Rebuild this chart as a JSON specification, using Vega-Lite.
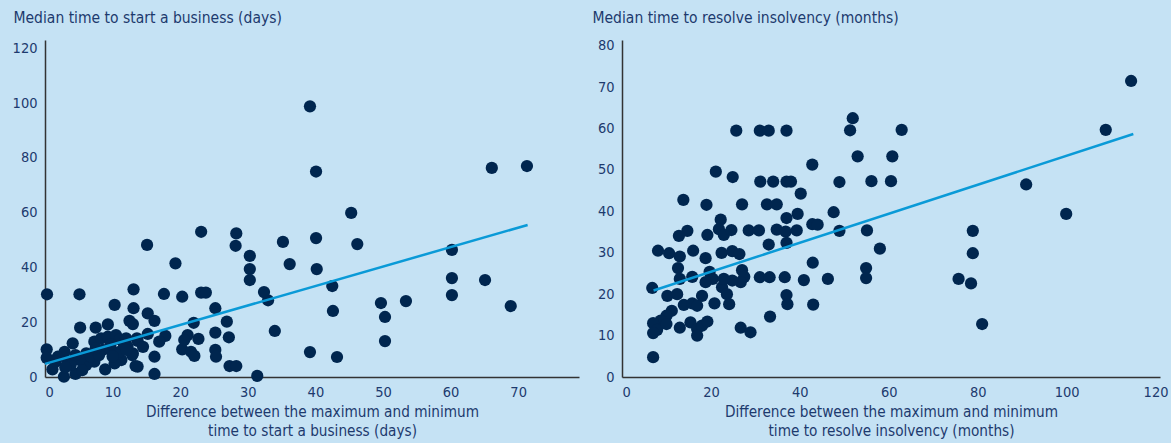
{
  "$schema": "https://vega.github.io/schema/vega-lite/v6.json",
  "background": "#c5e2f4",
  "padding": {"left": 12, "top": 10, "right": 5, "bottom": 5},
  "spacing": 13,
  "config": {
    "view": {"stroke": null},
    "font": "DejaVu Sans Condensed, DejaVu Sans, sans-serif",
    "axis": {
      "domainColor": "#333333",
      "domainWidth": 1.5,
      "ticks": false,
      "grid": false,
      "labelColor": "#1d3a6e",
      "titleColor": "#1d3a6e",
      "labelFont": "DejaVu Sans Condensed, DejaVu Sans, sans-serif",
      "titleFont": "DejaVu Sans Condensed, DejaVu Sans, sans-serif",
      "labelFontSize": 14.5,
      "titleFontSize": 15.5,
      "titleFontWeight": "normal"
    },
    "axisY": {"labelPadding": 8},
    "axisX": {"labelPadding": 8, "titlePadding": 6, "titleFontSize": 15.2, "titleLineHeight": 19}
  },
  "datasets": {
    "biz": [
      {"x": 0.3, "y": 30.2}, {"x": 5.1, "y": 30.2}, {"x": 39.2, "y": 98.8}, {"x": 40.1, "y": 75}, {"x": 66.1, "y": 76.3}, {"x": 71.3, "y": 77},
      {"x": 45.3, "y": 59.9}, {"x": 46.2, "y": 48.5}, {"x": 40.1, "y": 50.7}, {"x": 40.2, "y": 39.4}, {"x": 42.5, "y": 33.2}, {"x": 42.6, "y": 24.1},
      {"x": 43.2, "y": 7.3}, {"x": 39.2, "y": 9.1}, {"x": 31.4, "y": 0.4}, {"x": 36.2, "y": 41.2}, {"x": 35.2, "y": 49.3}, {"x": 33, "y": 28},
      {"x": 32.4, "y": 31}, {"x": 30.3, "y": 44.2}, {"x": 30.3, "y": 39.4}, {"x": 30.3, "y": 35.4}, {"x": 34, "y": 16.8}, {"x": 28.3, "y": 52.4},
      {"x": 28.2, "y": 47.9}, {"x": 23.1, "y": 53}, {"x": 23.1, "y": 30.8}, {"x": 23.8, "y": 30.8}, {"x": 19.3, "y": 41.5}, {"x": 15.1, "y": 48.2},
      {"x": 20.3, "y": 29.3}, {"x": 17.6, "y": 30.3}, {"x": 22, "y": 19.8}, {"x": 25.2, "y": 25.1}, {"x": 26.9, "y": 20.2}, {"x": 25.2, "y": 16.2},
      {"x": 27.2, "y": 14.5}, {"x": 25.2, "y": 9.9}, {"x": 25.3, "y": 7.4}, {"x": 27.3, "y": 4}, {"x": 28.3, "y": 4}, {"x": 20.3, "y": 10.1},
      {"x": 21.6, "y": 9.2}, {"x": 22.1, "y": 7.7}, {"x": 21.1, "y": 15.3}, {"x": 20.6, "y": 13.5}, {"x": 22.7, "y": 13.9}, {"x": 17.8, "y": 15},
      {"x": 16.9, "y": 12.9}, {"x": 16.2, "y": 7.4}, {"x": 16.2, "y": 1.1}, {"x": 13.7, "y": 3.8}, {"x": 60.2, "y": 46.4}, {"x": 60.2, "y": 36.1},
      {"x": 65.1, "y": 35.4}, {"x": 60.2, "y": 29.9}, {"x": 68.9, "y": 25.9}, {"x": 53.4, "y": 27.7}, {"x": 49.7, "y": 27}, {"x": 50.3, "y": 21.9},
      {"x": 50.3, "y": 13.1},
      {"x": 13.1, "y": 32}, {"x": 10.3, "y": 26.3}, {"x": 13.1, "y": 25.1}, {"x": 15.2, "y": 23.2}, {"x": 16.2, "y": 20.5}, {"x": 12.5, "y": 20.5},
      {"x": 13, "y": 19.3}, {"x": 9.3, "y": 19.2}, {"x": 7.5, "y": 18}, {"x": 5.2, "y": 18}, {"x": 15.2, "y": 15.7}, {"x": 13.7, "y": 13.2},
      {"x": 0.25, "y": 10.1}, {"x": 0.25, "y": 7}, {"x": 2.8, "y": 0.1}, {"x": 4.5, "y": 1.1}, {"x": 4.1, "y": 12.3}, {"x": 2.9, "y": 9.2},
      {"x": 1.9, "y": 7.4}, {"x": 1.1, "y": 2.8}, {"x": 7.3, "y": 12.9}, {"x": 8.3, "y": 14.1}, {"x": 9.3, "y": 14.7}, {"x": 10.5, "y": 15.3},
      {"x": 11.1, "y": 13.7}, {"x": 12, "y": 14.1}, {"x": 13.6, "y": 14.1}, {"x": 13, "y": 8.6}, {"x": 11.3, "y": 6.2}, {"x": 10.3, "y": 5},
      {"x": 8.9, "y": 2.8}, {"x": 7.3, "y": 5.6}, {"x": 6.1, "y": 4.4}, {"x": 5.1, "y": 6.2}, {"x": 6.1, "y": 8.6}, {"x": 6.8, "y": 7.4},
      {"x": 8.5, "y": 9.9}, {"x": 9.8, "y": 9.9}, {"x": 11, "y": 9.2}, {"x": 12.2, "y": 11.1}, {"x": 13.4, "y": 4}, {"x": 11.7, "y": 11.7},
      {"x": 3.4, "y": 5.6}, {"x": 3.8, "y": 4.4}, {"x": 1.6, "y": 5.6}, {"x": 8, "y": 8}, {"x": 12.9, "y": 8}, {"x": 12, "y": 9.9},
      {"x": 4.5, "y": 8}, {"x": 3, "y": 3.5}, {"x": 5.5, "y": 2.5}, {"x": 7.5, "y": 10.5}, {"x": 9.7, "y": 12}, {"x": 10, "y": 7.5},
      {"x": 14.5, "y": 11}
    ],
    "bizLine": [{"x": 0, "y": 4.8}, {"x": 71.4, "y": 55.5}],
    "ins": [
      {"x": 114.5, "y": 71.5}, {"x": 108.8, "y": 59.7}, {"x": 90.9, "y": 46.5}, {"x": 99.9, "y": 39.4}, {"x": 78.9, "y": 35.3}, {"x": 78.9, "y": 29.9},
      {"x": 75.7, "y": 23.7}, {"x": 78.5, "y": 22.6}, {"x": 81, "y": 12.8}, {"x": 51.9, "y": 62.5}, {"x": 51.3, "y": 59.6}, {"x": 62.9, "y": 59.7},
      {"x": 53, "y": 53.3}, {"x": 60.8, "y": 53.3}, {"x": 56.1, "y": 47.3}, {"x": 60.5, "y": 47.3}, {"x": 48.9, "y": 47.1}, {"x": 42.8, "y": 51.3},
      {"x": 40.2, "y": 44.3}, {"x": 47.6, "y": 39.8}, {"x": 42.8, "y": 36.9}, {"x": 44, "y": 36.8}, {"x": 39.5, "y": 39.4}, {"x": 39.3, "y": 35.4},
      {"x": 48.9, "y": 35.3}, {"x": 55.1, "y": 35.4}, {"x": 58, "y": 31}, {"x": 42.9, "y": 27.6}, {"x": 54.9, "y": 26.3}, {"x": 54.9, "y": 23.9},
      {"x": 40.9, "y": 23.4}, {"x": 46.3, "y": 23.7}, {"x": 43, "y": 17.5},
      {"x": 21.1, "y": 49.6}, {"x": 13.8, "y": 42.8}, {"x": 19, "y": 41.6}, {"x": 22.2, "y": 38}, {"x": 21.8, "y": 35.7}, {"x": 22.9, "y": 34.3},
      {"x": 14.7, "y": 35.3}, {"x": 12.8, "y": 34.1}, {"x": 19.2, "y": 34.3}, {"x": 8.1, "y": 30.5}, {"x": 10.6, "y": 29.9}, {"x": 13, "y": 29.1},
      {"x": 16, "y": 30.5}, {"x": 18.8, "y": 28.7}, {"x": 22.4, "y": 30}, {"x": 12.6, "y": 26.3}, {"x": 13, "y": 23.7}, {"x": 15.8, "y": 24.2},
      {"x": 19.7, "y": 25.4}, {"x": 20.4, "y": 23.7}, {"x": 18.8, "y": 22.9}, {"x": 22.5, "y": 21.7}, {"x": 6.8, "y": 21.5}, {"x": 10.2, "y": 19.6},
      {"x": 12.4, "y": 20}, {"x": 18, "y": 19.6}, {"x": 13.9, "y": 17.4}, {"x": 15.8, "y": 17.8}, {"x": 16.9, "y": 17.2}, {"x": 20.8, "y": 17.8},
      {"x": 11.2, "y": 16}, {"x": 10, "y": 14.8}, {"x": 8.7, "y": 13.6}, {"x": 7, "y": 13}, {"x": 7.9, "y": 11.4}, {"x": 13, "y": 11.9},
      {"x": 15.4, "y": 13.2}, {"x": 16.9, "y": 11.6}, {"x": 18, "y": 12.4}, {"x": 19.2, "y": 13.4}, {"x": 16.9, "y": 10}, {"x": 7, "y": 4.8},
      {"x": 24.9, "y": 48.3}, {"x": 25.7, "y": 59.5}, {"x": 31, "y": 59.5}, {"x": 33, "y": 59.5}, {"x": 37, "y": 59.5}, {"x": 31.1, "y": 47.2},
      {"x": 34, "y": 47.2}, {"x": 37, "y": 47.2}, {"x": 38, "y": 47.2}, {"x": 27, "y": 41.7}, {"x": 32.6, "y": 41.7}, {"x": 34.8, "y": 41.7},
      {"x": 37, "y": 38.4}, {"x": 24.6, "y": 35.5}, {"x": 28.5, "y": 35.4}, {"x": 30.8, "y": 35.4}, {"x": 34.8, "y": 35.6}, {"x": 36.8, "y": 35.1},
      {"x": 33, "y": 32}, {"x": 37, "y": 32.4}, {"x": 24.8, "y": 30.4}, {"x": 26.4, "y": 29.7}, {"x": 27, "y": 25.8}, {"x": 27.5, "y": 24.2},
      {"x": 26.7, "y": 22.9}, {"x": 24.8, "y": 23.3}, {"x": 22.9, "y": 23.7}, {"x": 31, "y": 24.1}, {"x": 33.2, "y": 24.1}, {"x": 36.6, "y": 24.1},
      {"x": 23.6, "y": 20}, {"x": 37, "y": 19.8}, {"x": 37.2, "y": 17.6}, {"x": 24.1, "y": 17.6}, {"x": 26.7, "y": 11.9}, {"x": 28.9, "y": 10.8},
      {"x": 33.3, "y": 14.6}, {"x": 7, "y": 10.6}, {"x": 10, "y": 12.8}
    ],
    "insLine": [{"x": 7.1, "y": 20.9}, {"x": 115, "y": 58.7}]
  },
  "hconcat": [
    {
      "width": 534,
      "height": 337,
      "layer": [
        {
          "data": {"name": "biz"},
          "mark": {"type": "circle", "size": 150, "opacity": 1, "color": "#00264f"},
          "encoding": {
            "x": {"field": "x", "type": "quantitative", "scale": {"domain": [0, 79], "nice": false},
                  "axis": {"values": [0, 10, 20, 30, 40, 50, 60, 70], "title": ["Difference between the maximum and minimum", "time to start a business (days)"]}},
            "y": {"field": "y", "type": "quantitative", "scale": {"domain": [0, 123], "nice": false},
                  "axis": {"values": [0, 20, 40, 60, 80, 100, 120], "title": "Median time to start a business (days)", "titleAngle": 0, "titleAlign": "left", "titleBaseline": "alphabetic", "titleX": -32, "titleY": -18}}
          }
        },
        {
          "data": {"name": "bizLine"},
          "mark": {"type": "line", "color": "#0a9ad7", "strokeWidth": 2.5},
          "encoding": {
            "x": {"field": "x", "type": "quantitative"},
            "y": {"field": "y", "type": "quantitative"}
          }
        }
      ]
    },
    {
      "width": 538,
      "height": 337,
      "layer": [
        {
          "data": {"name": "ins"},
          "mark": {"type": "circle", "size": 150, "opacity": 1, "color": "#00264f"},
          "encoding": {
            "x": {"field": "x", "type": "quantitative", "scale": {"domain": [0, 121], "nice": false},
                  "axis": {"values": [0, 20, 40, 60, 80, 100, 120], "title": ["Difference between the maximum and minimum", "time to resolve insolvency (months)"]}},
            "y": {"field": "y", "type": "quantitative", "scale": {"domain": [0, 81.4], "nice": false},
                  "axis": {"values": [0, 10, 20, 30, 40, 50, 60, 70, 80], "title": "Median time to resolve insolvency (months)", "titleAngle": 0, "titleAlign": "left", "titleBaseline": "alphabetic", "titleX": -30, "titleY": -18}}
          }
        },
        {
          "data": {"name": "insLine"},
          "mark": {"type": "line", "color": "#0a9ad7", "strokeWidth": 2.5},
          "encoding": {
            "x": {"field": "x", "type": "quantitative"},
            "y": {"field": "y", "type": "quantitative"}
          }
        }
      ]
    }
  ]
}
